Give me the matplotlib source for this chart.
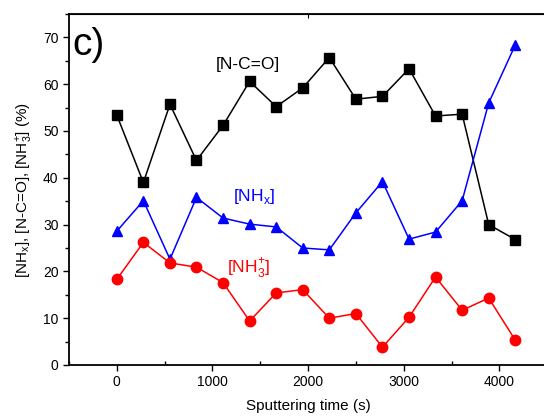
import matplotlib
matplotlib.use("Agg")
import matplotlib.pyplot as plt
from matplotlib.ticker import MultipleLocator, FixedLocator

plt.rcParams['font.family'] = ['Liberation Sans', 'DejaVu Sans']
plt.rcParams['mathtext.fontset'] = 'custom'
plt.rcParams['mathtext.rm'] = 'Liberation Sans'

time_s = [0, 278, 556, 833, 1111, 1389, 1667, 1944, 2222, 2500,
          2778, 3056, 3333, 3611, 3889, 4167]
nco = [53.4, 39.0, 55.7, 43.7, 51.2, 60.6, 55.2, 59.2, 65.7, 56.8,
       57.4, 63.3, 53.2, 53.6, 30.0, 26.8]
nhx = [28.6, 35.1, 22.6, 35.8, 31.4, 30.1, 29.5, 25.0, 24.6, 32.5,
       39.2, 26.9, 28.4, 35.1, 56.0, 68.4]
nh3 = [18.3, 26.2, 21.8, 20.9, 17.6, 9.4, 15.4, 16.1, 10.0, 11.0,
       3.8, 10.2, 18.8, 11.7, 14.3, 5.3]

fig = plt.figure(figsize=(5.44, 4.19), dpi=100)
ax = fig.add_axes([0.1268, 0.1289, 0.879, 0.8377])

ax.plot(time_s, nco, color='black', marker='s', ms=6.5, lw=1.1)
ax.plot(time_s, nhx, color='blue', marker='^', ms=7.5, lw=1.1)
ax.plot(time_s, nh3, color='red', marker='o', ms=7.5, lw=1.1)

ax.set_xlim(-500, 4500)
ax.set_ylim(0, 75)
ax.xaxis.set_major_locator(MultipleLocator(1000))
ax.xaxis.set_minor_locator(MultipleLocator(500))
ax.yaxis.set_major_locator(MultipleLocator(10))
ax.yaxis.set_minor_locator(MultipleLocator(5))
ax.tick_params(axis='x', which='major', direction='out', length=4, width=1, labelsize=10)
ax.tick_params(axis='x', which='minor', direction='in', length=3, width=1)
ax.tick_params(axis='y', which='both', direction='out', width=1, labelsize=10)
ax.tick_params(axis='y', which='major', length=4)
ax.tick_params(axis='y', which='minor', length=3)
for s in ax.spines.values():
    s.set_linewidth(1.3)

# top axis: single inward tick
sec = ax.secondary_xaxis('top')
sec.xaxis.set_major_locator(FixedLocator([2000]))
sec.xaxis.set_minor_locator(FixedLocator([]))
sec.tick_params(direction='in', length=3, labeltop=False)

ax.set_xlabel('Sputtering time (s)', fontsize=11, labelpad=7)
ax.set_ylabel(r'[NH$_{\mathrm{x}}$], [N-C=O], [NH$_3^{+}$] (%)', fontsize=11, labelpad=6)

ax.text(-460, 72.3, 'c)', fontsize=28, va='top', ha='left')
ax.text(1033, 64.3, '[N-C=O]', color='black', fontsize=12.5, va='center')
ax.text(1211, 35.9, r'[NH$_{\mathrm{x}}$]', color='blue', fontsize=12.5, va='center')
ax.text(1148, 20.7, r'[NH$_3^{+}$]', color='red', fontsize=12.5, va='center')

plt.savefig('out.png', dpi=100)
